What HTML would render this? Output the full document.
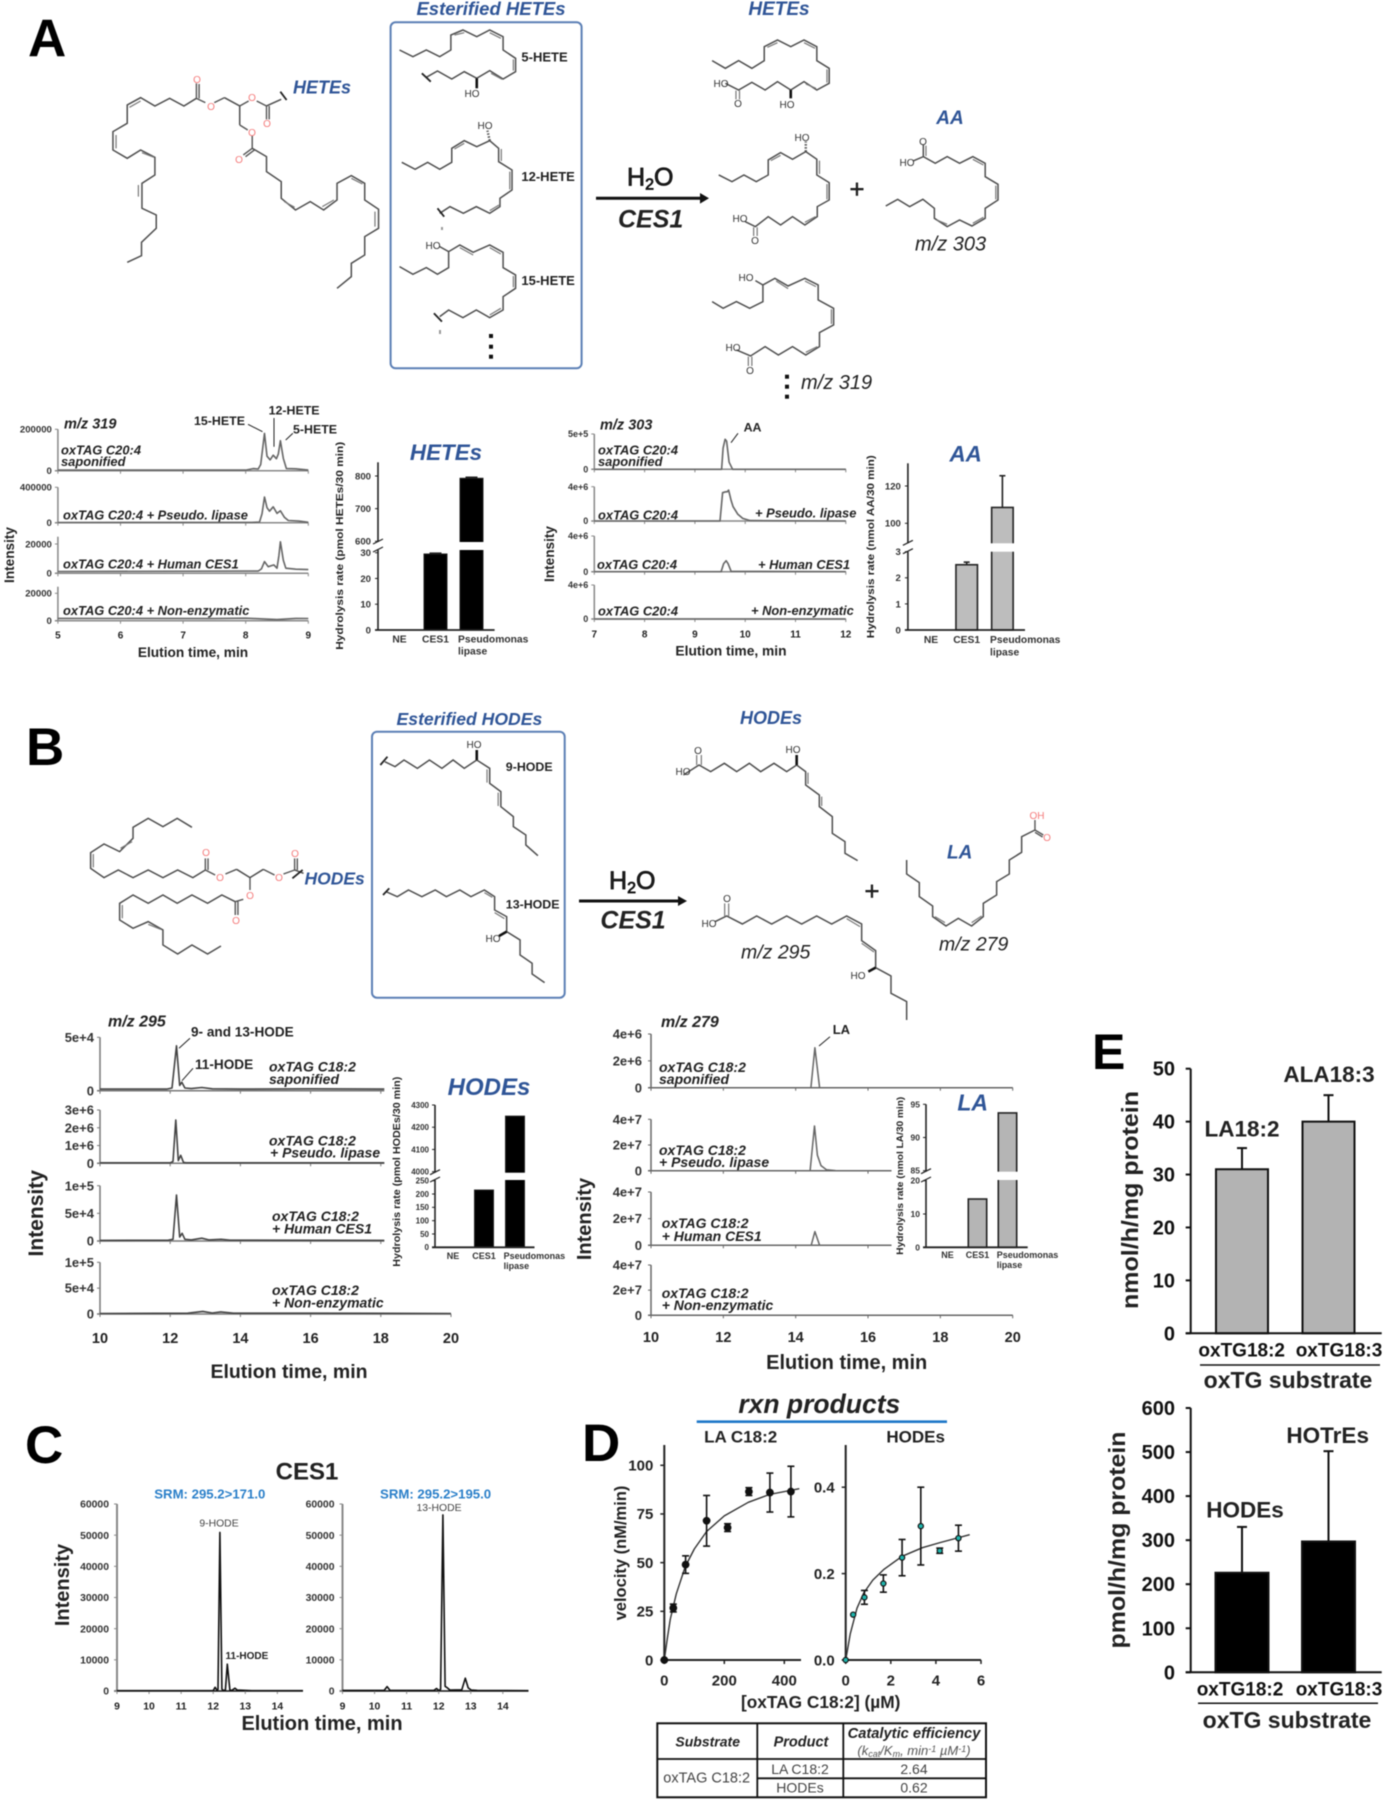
<!DOCTYPE html>
<html lang="en">
<head>
<meta charset="utf-8">
<title>oxTAG hydrolysis by CES1</title>
<style>
html,body{margin:0;padding:0;background:#fff;width:1383px;height:1800px;overflow:hidden}
#fig{display:block;filter:blur(.55px)}
text{font-family:"Liberation Sans",sans-serif;fill:#222}
.b{font-weight:bold}
.bi{font-weight:bold;font-style:italic}
.i{font-style:italic}
.blue{fill:#2f5597;font-weight:bold;font-style:italic}
.lt{font-weight:bold;fill:#000}
.bond{fill:none;stroke:#4f4f4f;stroke-width:1.5;vector-effect:non-scaling-stroke}
.dbl{fill:none;stroke:#777;stroke-width:1.2;vector-effect:non-scaling-stroke}
.redb{fill:none;stroke:#555;stroke-width:1.4;vector-effect:non-scaling-stroke}
.wedge{fill:none;stroke:#111;stroke-width:2.6;vector-effect:non-scaling-stroke}
.hash{fill:none;stroke:#555;stroke-width:2.4;stroke-dasharray:1.5 1.5;vector-effect:non-scaling-stroke}
.cut{fill:none;stroke:#222;stroke-width:1.8;vector-effect:non-scaling-stroke}
.atom{font-size:10px;fill:#333}
.ratom{font-size:10px;fill:#f47a7a}
.box{fill:none;stroke:#5b7fb5;stroke-width:2}
</style>
</head>
<body>
<svg id="fig" xmlns="http://www.w3.org/2000/svg" width="1383" height="1800" viewBox="0 0 1383 1800">
<rect x="0" y="0" width="1383" height="1800" fill="#fff"/>

<!-- Panel letters -->
<text class="lt" x="28" y="56.7" font-size="53">A</text>
<text class="lt" x="26" y="765" font-size="53">B</text>
<text class="lt" x="25" y="1463" font-size="53">C</text>
<text class="lt" x="582" y="1461" font-size="53">D</text>
<text class="lt" x="1092" y="1069" font-size="50">E</text>

<!-- Panel A schemes -->
<g transform="scale(.4464,.3333)">
<polyline class="bond" points="285,787 317,767 317,727 350,685 350,645 318,625 318,550 347,525 347,472 315,450 285,475 253,450 253,395 285,370 285,315 315,293 347,318 380,295 412,318 440,295"/>
<path class="dbl" d="M310,590L310,555M290,322L315,303M260,405L260,445M318,458L345,472"/>
<path class="redb" d="M440,295L460,308M440,295L440,250M446,295L446,252M480,308L503,293M537,318L557,303M575,303L597,318M597,318L597,358M603,318L603,358M537,375L555,390M565,408L565,445M565,445L545,465M570,450L550,470"/>
<polyline class="bond" points="503,293 537,318 537,375"/>
<polyline class="bond" points="597,318 630,298"/>
<path class="cut" d="M628,275L642,300"/>
<polyline class="bond" points="565,445 597,470 597,515 630,545 630,595 662,630 695,605 725,630 755,600 755,550 787,527 817,550 817,600 848,628 848,685 817,710 817,765 787,790 787,830 755,865"/>
<path class="dbl" d="M637,605L660,622M722,620L748,600M787,535L812,552M840,635L840,680"/>
</g>
<text class="ratom" x="197" y="83" text-anchor="middle">O</text>
<text class="ratom" x="211" y="110" text-anchor="middle">O</text>
<text class="ratom" x="252" y="101" text-anchor="middle">O</text>
<text class="ratom" x="267" y="127" text-anchor="middle">O</text>
<text class="ratom" x="252" y="136" text-anchor="middle">O</text>
<text class="ratom" x="239" y="163" text-anchor="middle">O</text>
<text class="blue" x="293" y="93.3" font-size="18">HETEs</text>

<text class="blue" x="491" y="15" font-size="18.5" text-anchor="middle">Esterified HETEs</text>
<rect class="box" x="390.6" y="22.3" width="191" height="346" rx="5"/>
<g transform="scale(.4464,.3333)">
<polyline class="bond" points="895,150 925,170 955,150 985,170 1010,150 1010,105 1037,90 1068,110 1097,90 1127,110 1127,150 1155,175 1155,215 1127,237 1097,212 1068,235 1040,215 1012,237 980,213 955,232"/>
<path class="dbl" d="M1018,105L1040,98M1097,98L1122,115M1150,178L1150,212M1100,220L1125,238"/>
<path class="cut" d="M945,220L965,245"/>
<path class="wedge" d="M1068,235L1068,265"/>
<polyline class="bond" points="900,487 930,508 958,487 985,508 1012,487 1012,445 1040,422 1068,440 1097,422 1117,445 1117,485 1147,510 1147,570 1120,595 1120,620 1097,640 1067,620 1038,640 1008,620 985,640"/>
<path class="dbl" d="M1018,447L1040,430M1123,447L1123,483M1142,515L1142,568M1097,632L1118,615"/>
<path class="cut" d="M980,625L995,650"/>
<path class="hash" d="M1097,422L1092,392"/>
<polyline class="bond" points="895,800 925,823 955,803 980,823 1005,803 1005,755 1030,735 1060,757 1097,735 1127,757 1127,803 1155,825 1155,865 1127,890 1127,930 1097,953 1067,930 1037,953 1005,930 985,950"/>
<path class="dbl" d="M1030,743L1060,765M1097,743L1122,762M1150,828L1150,862M1097,945L1122,925"/>
<path class="cut" d="M972,940L990,965"/>
<path class="bond" d="M1005,755L985,740"/>
</g>
<rect x="441" y="227" width="2" height="3" fill="#999"/>
<rect x="439" y="330" width="2" height="4" fill="#999"/>
<text class="atom" x="472" y="97" text-anchor="middle">HO</text>
<text class="atom" x="485" y="129" text-anchor="middle">HO</text>
<text class="atom" x="433" y="249" text-anchor="middle">HO</text>
<text class="b" x="521.4" y="61.7" font-size="13">5-HETE</text>
<text class="b" x="521.4" y="181" font-size="13">12-HETE</text>
<text class="b" x="521.4" y="285" font-size="13">15-HETE</text>
<g fill="#111">
<rect x="489" y="334" width="4" height="4"/><rect x="489" y="344.7" width="4" height="4"/><rect x="489" y="354.7" width="4" height="4"/>
</g>

<text x="627" y="185.7" font-size="25" stroke="#000" stroke-width=".7">H<tspan font-size="16" dy="4">2</tspan><tspan dy="-4">O</tspan></text>
<g>
<line x1="596" y1="198.3" x2="702" y2="198.3" stroke="#111" stroke-width="3"/>
<polygon points="709,198.3 700,193 700,203.6" fill="#111"/>
</g>
<text class="bi" x="618" y="227.7" font-size="25">CES1</text>

<text class="blue" x="779" y="15" font-size="19" text-anchor="middle">HETEs</text>
<text class="blue" x="950" y="124" font-size="19" text-anchor="middle">AA</text>
<text x="857" y="198" font-size="26" text-anchor="middle" stroke="#000" stroke-width=".4">+</text>
<text class="i" x="915" y="250.7" font-size="20">m/z 303</text>
<text class="i" x="801" y="389" font-size="20">m/z 319</text>
<g fill="#111">
<rect x="785" y="374.7" width="4" height="4"/><rect x="785" y="384.7" width="4" height="4"/><rect x="785" y="394.7" width="4" height="4"/>
</g>
<g transform="translate(690,0) scale(.4419,.3333)">
<polyline class="bond" points="50,182 80,205 110,182 140,205 168,182 168,140 198,120 228,140 258,120 287,140 287,182 315,205 315,250 287,270 258,245 228,270 198,245 170,270 140,247 110,270 80,250"/>
<path class="dbl" d="M175,142L198,128M258,128L283,145M310,208L310,248M262,252L285,265M104,272L104,298M112,272L112,298"/>
<path class="wedge" d="M228,270L228,295"/>
<polyline class="bond" points="65,525 95,545 122,525 150,545 177,525 177,480 205,458 232,478 262,455 287,478 287,525 315,548 315,600 288,620 288,650 260,675 232,650 205,675 177,650 148,680 125,665"/>
<path class="dbl" d="M183,482L205,466M293,482L293,522M310,552L310,598M260,667L284,650M144,682L144,708M152,682L152,708"/>
<path class="hash" d="M262,455L262,425"/>
<polyline class="bond" points="528,435 528,470 505,483"/>
<path class="dbl" d="M534,437L534,468"/>
<polyline class="bond" points="528,470 555,490 582,470 610,490 640,470 668,490 668,530 697,553 697,600 668,625 668,655 638,678 610,660 582,680 553,655 553,625 527,598 497,620 470,598 443,618"/>
<path class="dbl" d="M640,478L664,495M692,557L692,598M640,670L664,652M558,660L582,673"/>
<polyline class="bond" points="50,905 75,925 105,905 135,925 165,905 165,855 192,835 222,858 260,835 290,855 290,900 325,925 325,975 293,998 293,1040 262,1065 232,1040 200,1065 170,1040 137,1068 105,1050"/>
<path class="dbl" d="M195,843L222,866M260,843L285,860M320,928L320,972M262,1057L288,1040M132,1070L132,1098M140,1070L140,1098"/>
<path class="bond" d="M165,855L148,842"/>
</g>
<text class="atom" x="721" y="87" text-anchor="middle">HO</text>
<text class="atom" x="738" y="107" text-anchor="middle">O</text>
<text class="atom" x="787" y="108" text-anchor="middle">HO</text>
<text class="atom" x="802" y="141" text-anchor="middle">HO</text>
<text class="atom" x="740" y="222" text-anchor="middle">HO</text>
<text class="atom" x="755" y="244" text-anchor="middle">O</text>
<text class="atom" x="923" y="145" text-anchor="middle">O</text>
<text class="atom" x="907" y="166" text-anchor="middle">HO</text>
<text class="atom" x="746" y="281" text-anchor="middle">HO</text>
<text class="atom" x="733" y="351" text-anchor="middle">HO</text>
<text class="atom" x="750" y="374" text-anchor="middle">O</text>

<!-- Panel A charts text -->
<text class="bi" x="64" y="428.3" font-size="14.5">m/z 319</text>
<text class="b" x="194" y="425" font-size="12.4">15-HETE</text>
<text class="b" x="268.6" y="414.3" font-size="12.4">12-HETE</text>
<text class="b" x="293" y="433.3" font-size="12.4">5-HETE</text>
<g stroke="#222" stroke-width="1">
<line x1="248" y1="424.3" x2="262.5" y2="431.7"/><line x1="274" y1="418" x2="274" y2="446.7"/><line x1="292.9" y1="433.3" x2="285.7" y2="440"/>
</g>
<text class="bi" x="61" y="454.3" font-size="12.9">oxTAG C20:4</text>
<text class="bi" x="61" y="466" font-size="12.9">saponified</text>
<text class="bi" x="63" y="519.3" font-size="12.9">oxTAG C20:4 + Pseudo. lipase</text>
<text class="bi" x="63" y="568.7" font-size="12.9">oxTAG C20:4 + Human CES1</text>
<text class="bi" x="63" y="615" font-size="12.9">oxTAG C20:4 + Non-enzymatic</text>
<text class="b" transform="translate(14,555) rotate(-90)" text-anchor="middle" font-size="13.6">Intensity</text>
<text class="b" x="193" y="657" text-anchor="middle" font-size="13.7">Elution time, min</text>
<text class="blue" x="446" y="460" text-anchor="middle" font-size="22.4">HETEs</text>
<text class="b" transform="translate(343,545.8) rotate(-90)" text-anchor="middle" font-size="10.5" textLength="208" lengthAdjust="spacingAndGlyphs">Hydrolysis rate (pmol HETEs/30 min)</text>

<text class="bi" x="600" y="429.3" font-size="14.5">m/z 303</text>
<text class="b" x="743.6" y="431.7" font-size="12.4">AA</text>
<line x1="738" y1="433.3" x2="731" y2="442.7" stroke="#222"/>
<text class="bi" x="598" y="454.3" font-size="12.9">oxTAG C20:4</text>
<text class="bi" x="598" y="466" font-size="12.9">saponified</text>
<text class="bi" x="598" y="519.3" font-size="12.9">oxTAG C20:4</text>
<text class="bi" x="755" y="517.3" font-size="12.9">+ Pseudo. lipase</text>
<text class="bi" x="597" y="569" font-size="12.9">oxTAG C20:4</text>
<text class="bi" x="758" y="569" font-size="12.9">+ Human CES1</text>
<text class="bi" x="598" y="615.7" font-size="12.9">oxTAG C20:4</text>
<text class="bi" x="751" y="615" font-size="12.9">+ Non-enzymatic</text>
<text class="b" transform="translate(554,554) rotate(-90)" text-anchor="middle" font-size="13.6">Intensity</text>
<text class="b" x="731" y="655.5" text-anchor="middle" font-size="13.8">Elution time, min</text>
<text class="blue" x="965.7" y="461.7" text-anchor="middle" font-size="22.4">AA</text>
<text class="b" transform="translate(874,546.7) rotate(-90)" text-anchor="middle" font-size="10.5" textLength="183" lengthAdjust="spacingAndGlyphs">Hydrolysis rate (nmol AA/30 min)</text>

<!-- Panel B schemes -->
<g transform="translate(0,700) scale(.4464,.3333)">
<polyline class="bond" points="430,382 397,355 365,380 332,355 298,382 298,415 268,455 233,432 203,458 203,505 233,533 265,510 298,533 332,510 365,533 398,510 432,533 460,510"/>
<path class="dbl" d="M270,445L296,425M209,462L209,502"/>
<path class="redb" d="M460,510L460,475M466,510L466,475M460,510L482,525M505,522L530,508M590,508L615,525M635,522L660,510M660,510L660,475M666,510L666,475M560,533L560,570M545,598L527,605M527,605L527,645M533,605L533,645"/>
<polyline class="bond" points="530,508 560,533 590,508"/>
<polyline class="bond" points="660,510 680,520"/>
<path class="cut" d="M655,535L678,510"/>
<polyline class="bond" points="527,605 497,585 465,610 430,585 397,610 365,585 332,610 298,585 268,610 268,660 298,685 332,665 365,690 365,735 398,762 430,735 465,762 495,738"/>
<path class="dbl" d="M274,615L274,655M332,673L360,688"/>
<polyline class="bond" points="862,185 885,200 905,180 935,205 962,180 990,205 1015,180 1040,205 1068,180 1097,205 1097,250 1122,275 1122,320 1150,350 1150,380 1178,405 1178,435 1205,467"/>
<path class="dbl" d="M1091,208L1091,248M1116,278L1116,318"/>
<path class="cut" d="M852,195L868,170"/>
<path class="wedge" d="M1068,180L1068,150"/>
<polyline class="bond" points="865,575 890,590 915,570 945,590 975,570 1000,590 1030,570 1055,590 1085,570 1108,590 1108,630 1135,650 1135,695 1165,720 1165,765 1192,790 1192,822 1220,848"/>
<path class="dbl" d="M1085,578L1103,592M1108,638L1130,656"/>
<path class="cut" d="M858,585L872,565"/>
<path class="wedge" d="M1135,695L1118,708"/>
</g>
<text class="ratom" x="206" y="856" text-anchor="middle">O</text>
<text class="ratom" x="220" y="881" text-anchor="middle">O</text>
<text class="ratom" x="250" y="899" text-anchor="middle">O</text>
<text class="ratom" x="236" y="924" text-anchor="middle">O</text>
<text class="ratom" x="279" y="881" text-anchor="middle">O</text>
<text class="ratom" x="295" y="857" text-anchor="middle">O</text>
<text class="blue" x="304.5" y="884.3" font-size="17.5">HODEs</text>

<text class="blue" x="469.4" y="725" font-size="17.6" text-anchor="middle">Esterified HODEs</text>
<rect class="box" x="372" y="731.7" width="192.7" height="266" rx="5"/>
<text class="atom" x="474" y="748" font-size="9" text-anchor="middle">HO</text>
<text class="atom" x="493" y="942" font-size="9" text-anchor="middle">HO</text>
<text class="b" x="505.8" y="771" font-size="12.4">9-HODE</text>
<text class="b" x="505.8" y="908.3" font-size="12.4">13-HODE</text>

<text x="609" y="889" font-size="25" stroke="#000" stroke-width=".7">H<tspan font-size="16" dy="4">2</tspan><tspan dy="-4">O</tspan></text>
<g>
<line x1="579" y1="901" x2="680" y2="901" stroke="#111" stroke-width="3"/>
<polygon points="687,901 678,896 678,906" fill="#111"/>
</g>
<text class="bi" x="600.4" y="928.3" font-size="25">CES1</text>

<text class="blue" x="771" y="724" font-size="18" text-anchor="middle">HODEs</text>
<text class="blue" x="959.7" y="858.3" font-size="19" text-anchor="middle">LA</text>
<text x="872" y="900" font-size="26" text-anchor="middle" stroke="#000" stroke-width=".4">+</text>
<text class="i" x="741" y="958.3" font-size="19.5">m/z 295</text>
<text class="i" x="939" y="950.7" font-size="19.5">m/z 279</text>
<g transform="translate(690,700) scale(.3333,.3333)">
<polyline class="bond" points="-20,225 27,195 62,215 103,190 140,215 178,190 212,215 252,190 290,215 320,195 347,215 347,255 388,285 388,320 427,350 427,400 465,425 465,460 503,482"/>
<path class="dbl" d="M354,218L354,252M395,290L395,318M20,195L20,165M34,195L34,165"/>
<path class="wedge" d="M320,195L320,165"/>
<polyline class="bond" points="75,665 110,648 157,672 200,648 245,672 290,648 335,672 380,648 425,672 470,648 515,672 515,722 557,752 557,803 603,828 603,880 650,905 650,960"/>
<path class="dbl" d="M470,656L510,680M515,730L552,756M104,648L104,610M116,648L116,610"/>
<path class="wedge" d="M557,803L535,815"/>
<polyline class="bond" points="650,480 650,522 688,548 688,590 728,618 728,650 768,678 805,655 845,678 880,650 880,610 920,585 920,545 958,522 958,480 995,457 995,410 1035,390"/>
<path class="dbl" d="M735,650L765,668M845,668L875,648"/>
<path class="redb" d="M1035,390L1060,405M1035,397L1058,411M1035,390L1035,360"/>
</g>
<text class="atom" x="698" y="754" font-size="9" text-anchor="middle">O</text>
<text class="atom" x="683" y="775" font-size="9" text-anchor="middle">HO</text>
<text class="atom" x="793" y="753" font-size="9" text-anchor="middle">HO</text>
<text class="atom" x="727" y="902" font-size="9" text-anchor="middle">O</text>
<text class="atom" x="709" y="927" font-size="9" text-anchor="middle">HO</text>
<text class="atom" x="858" y="979" font-size="9" text-anchor="middle">HO</text>
<text class="ratom" x="1037" y="819" font-size="9" text-anchor="middle">OH</text>
<text class="ratom" x="1047" y="841" font-size="9" text-anchor="middle">O</text>

<!-- Panel B charts text -->
<text class="bi" x="108" y="1026.7" font-size="16">m/z 295</text>
<text class="b" x="191" y="1036.7" font-size="13.6">9- and 13-HODE</text>
<text class="b" x="195" y="1069" font-size="13.6">11-HODE</text>
<g stroke="#222" stroke-width="1">
<line x1="190" y1="1038.3" x2="179" y2="1048.3"/><line x1="193" y1="1068.3" x2="182" y2="1080.7"/>
</g>
<text class="bi" x="269" y="1071.7" font-size="14">oxTAG C18:2</text>
<text class="bi" x="269" y="1084" font-size="14">saponified</text>
<text class="bi" x="269" y="1145.7" font-size="14">oxTAG C18:2</text>
<text class="bi" x="270" y="1157.7" font-size="14">+ Pseudo. lipase</text>
<text class="bi" x="272" y="1221" font-size="14">oxTAG C18:2</text>
<text class="bi" x="272" y="1233.3" font-size="14">+ Human CES1</text>
<text class="bi" x="272" y="1295" font-size="14">oxTAG C18:2</text>
<text class="bi" x="272" y="1307.3" font-size="14">+ Non-enzymatic</text>
<text class="b" transform="translate(43,1213.3) rotate(-90)" text-anchor="middle" font-size="21">Intensity</text>
<text class="b" x="289" y="1378" text-anchor="middle" font-size="19.5">Elution time, min</text>
<text class="blue" x="489" y="1095" text-anchor="middle" font-size="24">HODEs</text>
<text class="b" transform="translate(400,1171.7) rotate(-90)" text-anchor="middle" font-size="10" textLength="190" lengthAdjust="spacingAndGlyphs">Hydrolysis rate (pmol HODEs/30 min)</text>

<text class="bi" x="661" y="1027" font-size="16">m/z 279</text>
<text class="b" x="832.7" y="1034" font-size="13">LA</text>
<line x1="830" y1="1036.7" x2="819" y2="1046" stroke="#222"/>
<text class="bi" x="659" y="1072" font-size="14">oxTAG C18:2</text>
<text class="bi" x="659" y="1084" font-size="14">saponified</text>
<text class="bi" x="659" y="1155" font-size="14">oxTAG C18:2</text>
<text class="bi" x="659" y="1167" font-size="14">+ Pseudo. lipase</text>
<text class="bi" x="661.7" y="1228" font-size="14">oxTAG C18:2</text>
<text class="bi" x="661.7" y="1241" font-size="14">+ Human CES1</text>
<text class="bi" x="661.7" y="1298" font-size="14">oxTAG C18:2</text>
<text class="bi" x="661.7" y="1310" font-size="14">+ Non-enzymatic</text>
<text class="b" transform="translate(591,1219) rotate(-90)" text-anchor="middle" font-size="20">Intensity</text>
<text class="b" x="846.7" y="1369" text-anchor="middle" font-size="20">Elution time, min</text>
<text class="blue" x="972.7" y="1110.7" text-anchor="middle" font-size="23">LA</text>
<text class="b" transform="translate(903,1175.7) rotate(-90)" text-anchor="middle" font-size="9" textLength="158" lengthAdjust="spacingAndGlyphs">Hydrolysis rate (nmol LA/30 min)</text>

<!-- Panel C text -->
<text class="b" x="307" y="1479.3" text-anchor="middle" font-size="24" fill="#000">CES1</text>
<text class="b" x="209.8" y="1498.3" text-anchor="middle" font-size="13.2" style="fill:#2a7fc9">SRM: 295.2&gt;171.0</text>
<text class="b" x="435.6" y="1498.3" text-anchor="middle" font-size="13.2" style="fill:#2a7fc9">SRM: 295.2&gt;195.0</text>
<text x="219" y="1526.7" text-anchor="middle" font-size="10.4" style="fill:#444">9-HODE</text>
<text class="b" x="225.5" y="1659" font-size="10">11-HODE</text>
<text x="439" y="1511" text-anchor="middle" font-size="10.4" style="fill:#444">13-HODE</text>
<text class="b" transform="translate(69,1585) rotate(-90)" text-anchor="middle" font-size="20">Intensity</text>
<text class="b" x="322" y="1730" text-anchor="middle" font-size="20">Elution time, min</text>

<!-- Panel D text -->
<text class="bi" x="819.3" y="1413" text-anchor="middle" font-size="26.5">rxn products</text>
<line x1="696.7" y1="1421.7" x2="947" y2="1421.7" stroke="#1f78c8" stroke-width="2.6"/>
<text class="b" x="740.7" y="1442.7" text-anchor="middle" font-size="17">LA C18:2</text>
<text class="b" x="915.7" y="1442.7" text-anchor="middle" font-size="17">HODEs</text>
<text class="b" transform="translate(626,1553) rotate(-90)" text-anchor="middle" font-size="16.5">velocity (nM/min)</text>
<text class="b" x="820.7" y="1708" text-anchor="middle" font-size="17.3">[oxTAG C18:2] (µM)</text>

<g>
<rect x="657.3" y="1723.3" width="328.7" height="74" fill="none" stroke="#111" stroke-width="2"/>
<line x1="757.3" y1="1723.3" x2="757.3" y2="1797.3" stroke="#111" stroke-width="1.8"/>
<line x1="843.3" y1="1723.3" x2="843.3" y2="1797.3" stroke="#111" stroke-width="1.8"/>
<line x1="657.3" y1="1759" x2="986" y2="1759" stroke="#111" stroke-width="1.8"/>
<line x1="757.3" y1="1778.3" x2="986" y2="1778.3" stroke="#111" stroke-width="1.8"/>
<text class="bi" x="707.7" y="1746.7" text-anchor="middle" font-size="14">Substrate</text>
<text class="bi" x="801" y="1746.7" text-anchor="middle" font-size="14.5">Product</text>
<text class="bi" x="914" y="1738" text-anchor="middle" font-size="14.7">Catalytic efficiency</text>
<text class="i" x="914" y="1755" text-anchor="middle" font-size="13" style="fill:#555">(k<tspan font-size="9" dy="2">cat</tspan><tspan dy="-2">/K</tspan><tspan font-size="9" dy="2">m</tspan><tspan dy="-2">, min</tspan><tspan font-size="9" dy="-3">-1</tspan><tspan dy="3"> µM</tspan><tspan font-size="9" dy="-3">-1</tspan><tspan dy="3">)</tspan></text>
<text x="706.7" y="1782.7" text-anchor="middle" font-size="14.5" style="fill:#444">oxTAG C18:2</text>
<text x="800" y="1774" text-anchor="middle" font-size="14" style="fill:#444">LA C18:2</text>
<text x="800" y="1792.5" text-anchor="middle" font-size="14" style="fill:#444">HODEs</text>
<text x="914" y="1774" text-anchor="middle" font-size="14" style="fill:#444">2.64</text>
<text x="914" y="1792.5" text-anchor="middle" font-size="14" style="fill:#444">0.62</text>
</g>

<!-- Panel E text -->
<text class="b" x="1242" y="1136.7" text-anchor="middle" font-size="22.5">LA18:2</text>
<text class="b" x="1329" y="1082" text-anchor="middle" font-size="22.5">ALA18:3</text>
<text class="b" transform="translate(1138,1200) rotate(-90)" text-anchor="middle" font-size="23" textLength="218" lengthAdjust="spacingAndGlyphs">nmol/h/mg protein</text>
<line x1="1200" y1="1365" x2="1380" y2="1365" stroke="#111" stroke-width="1.5"/>
<text class="b" x="1288" y="1388" text-anchor="middle" font-size="23">oxTG substrate</text>
<text class="b" x="1245" y="1517.7" text-anchor="middle" font-size="22.5">HODEs</text>
<text class="b" x="1327.7" y="1443" text-anchor="middle" font-size="22.5">HOTrEs</text>
<text class="b" transform="translate(1125,1540) rotate(-90)" text-anchor="middle" font-size="23" textLength="217" lengthAdjust="spacingAndGlyphs">pmol/h/mg protein</text>
<line x1="1198" y1="1703.3" x2="1378" y2="1703.3" stroke="#111" stroke-width="1.5"/>
<text class="b" x="1287" y="1728" text-anchor="middle" font-size="23">oxTG substrate</text>

<g id="charts"></g>
</svg>

<script>
// ---- Panel A: m/z 319 traces ----
const heteSapTime=[5,8.0,8.12,8.2,8.24,8.3,8.34,8.39,8.44,8.49,8.52,8.555,8.6,8.65,8.8,9];
const heteSapValue=[3000,3000,10000,8000,30000,180000,70000,52000,75000,58000,80000,145000,60000,10000,9000,3000];
const hetePseudoTime=[5,8.1,8.22,8.26,8.3,8.34,8.38,8.44,8.5,8.555,8.62,8.68,8.85,9];
const hetePseudoValue=[2000,3000,8000,100000,290000,170000,130000,180000,105000,135000,60000,25000,18000,5000];
const heteCesTime=[5,8.2,8.25,8.3,8.36,8.45,8.5,8.53,8.555,8.6,8.64,8.8,9];
const heteCesValue=[1200,1500,3000,8000,4500,5700,3500,12000,21500,9000,3500,2800,2500];
const heteNonTime=[5,7.5,8,8.5,8.8,9];
const heteNonValue=[1700,1500,1800,800,1700,1600];
const heteXTicks=[5,6,7,8,9];
const heteSapTicks=[0,200000];
const hetePseudoTicks=[0,400000];
const heteCesTicks=[0,20000];
const heteNonTicks=[0,20000];
// ---- Panel A: m/z 303 traces ----
const aaSapTime=[7,9.53,9.56,9.6,9.63,9.68,9.75,12];
const aaSapValue=[0,0,300000,425000,400000,100000,0,0];
const aaPseudoTime=[7,9.5,9.55,9.61,9.64,9.67,9.72,9.76,9.85,9.95,10.1,12];
const aaPseudoValue=[0,0,3300000,3400000,3400000,3600000,2400000,1670000,800000,300000,50000,0];
const aaCesTime=[7,9.52,9.57,9.62,9.66,9.72,12];
const aaCesValue=[0,0,900000,1230000,900000,50000,0];
const aaNonTime=[7,12];
const aaNonValue=[0,0];
const aaXTicks=[7,8,9,10,11,12];
const aaSapTicks=[0,500000];
const aaOtherTicks=[0,4000000];
// ---- Panel A: rates ----
const rateCategories=['NE','CES1','Pseudomonas'];
const rateCategoryLine2=['','','lipase'];
const heteRates=[0,29.5,793];
const heteRateErrors=[0,0.3,3];
const heteLowTicks=[0,10,20,30];
const heteHighTicks=[600,700,800];
const aaRates=[0,2.5,108.5];
const aaRateErrors=[0,0.1,17];
const aaLowTicks=[0,1,2,3];
const aaHighTicks=[100,120];
// ---- Panel B: m/z 295 traces ----
const hodeSapTime=[10,11.9,12.05,12.18,12.27,12.33,12.42,12.6,12.9,13.2,14,16,18.1];
const hodeSapValue=[1500,1500,2500,42000,5000,8000,2500,2000,3000,1800,1500,1800,1500];
const hodePseudoTime=[10,12,12.08,12.16,12.23,12.3,12.38,12.45,18.1];
const hodePseudoValue=[30000,30000,100000,2430000,150000,450000,50000,30000,30000];
const hodeCesTime=[10,11.95,12.08,12.18,12.27,12.34,12.42,12.6,12.9,13.1,13.45,13.7,18.1];
const hodeCesValue=[1000,1500,3000,83000,7000,14000,3000,2000,5000,2000,3000,1500,1000];
const hodeNonTime=[10,12.5,12.93,13.2,13.44,13.8,16,20];
const hodeNonValue=[1000,1500,5000,2000,4000,1500,1500,1000];
const bXTicks=[10,12,14,16,18,20];
const hodeSapTicks=[0,50000];
const hodePseudoTicks=[0,1000000,2000000,3000000];
const hodeCesTicks=[0,50000,100000];
const hodeNonTicks=[0,50000,100000];
const hodeRates=[0,215,4250];
const hodeRateErrors=[0,0,0];
const hodeLowTicks=[0,50,100,150,200,250];
const hodeHighTicks=[4000,4100,4200,4300];
// ---- Panel B: m/z 279 traces ----
const laSapTime=[10,14.42,14.53,14.66,20];
const laSapValue=[0,0,2980000,0,0];
const laPseudoTime=[10,14.4,14.52,14.6,14.7,14.85,15.1,16.5];
const laPseudoValue=[0,0,34800000,12000000,4000000,800000,100000,0];
const laCesTime=[10,14.43,14.53,14.66,16.5];
const laCesValue=[0,0,10300000,0,0];
const laNonTime=[10,20];
const laNonValue=[0,0];
const laSapTicks=[0,2000000,4000000];
const laOtherTicks=[0,20000000,40000000];
const laRates=[0,14.5,93.7];
const laRateErrors=[0,0,0];
const laLowTicks=[0,10,20];
const laHighTicks=[85,90,95];
// ---- Panel C ----
const srm171Time=[9,12,12.06,12.12,12.15,12.21,12.27,12.31,12.38,12.44,12.52,12.58,12.68,12.75,13.2,14.8];
const srm171Value=[100,100,1200,200,500,50900,600,200,300,8600,300,200,900,300,100,100];
const srm195Time=[9,10.3,10.39,10.48,11.85,11.93,12.0,12.06,12.13,12.2,12.27,12.35,12.72,12.83,12.92,13.02,13.2,14.8];
const srm195Value=[200,200,1400,200,200,800,200,500,56500,1500,1000,300,400,4100,1000,300,200,100];
const srmXTicks=[9,10,11,12,13,14];
const srmYTicks=[0,10000,20000,30000,40000,50000,60000];
// ---- Panel D ----
const laConc=[0,30,71,141,211,282,352,422];
const laVelocity=[0,26.7,49,71.5,68,86.5,86,86.5];
const laVelocityErr=[0,2,4.5,13,2,2,10,13];
const laFitX=[0,10,20,40,70,100,141,200,280,350,450];
const laFitY=[0,11,21,34,48,57,66,74,81,85,88];
const laXTicks=[0,200,400];
const laYTicks=[0,25,50,75,100];
const hodeConc=[0,0.33,0.83,1.67,2.5,3.33,4.17,5];
const hodeVelocity=[0,0.105,0.145,0.177,0.237,0.31,0.253,0.282];
const hodeVelocityErr=[0,0,0.016,0.02,0.042,0.09,0.006,0.03];
const hodeFitX=[0,0.1,0.2,0.5,0.8,1.2,1.7,2.5,3.4,4.2,5.5];
const hodeFitY=[0,0.03,0.06,0.12,0.155,0.185,0.21,0.24,0.26,0.272,0.29];
const hodeXTicks=[0,2,4,6];
const hodeYTicks=[0,0.2,0.4];
// ---- Panel E ----
const eCategories=['oxTG18:2','oxTG18:3'];
const eTopValues=[31,40];
const eTopErrors=[4,5];
const eTopTicks=[0,10,20,30,40,50];
const eBottomValues=[226,297];
const eBottomErrors=[104,205];
const eBottomTicks=[0,100,200,300,400,500,600];

const NS='http://www.w3.org/2000/svg';
const root=document.getElementById('charts');
function add(parent,tag,attrs,name,txt){
  const el=document.createElementNS(NS,tag);
  for(const k in attrs){el.setAttribute(k,attrs[k]);}
  
  
  if(txt!==undefined){el.textContent=txt;}
  parent.appendChild(el);
  return el;
}
function line(p,x1,y1,x2,y2,stroke,w,name){
  return add(p,'line',{x1:x1,y1:y1,x2:x2,y2:y2,stroke:stroke,'stroke-width':w},name);
}
function label(p,x,y,s,fs,anchor,name,fill,weight){
  return add(p,'text',{x:x,y:y+fs*0.35,'text-anchor':anchor,'font-size':fs,'font-weight':weight||'bold',style:'fill:'+(fill||'#222')},name,s);
}
function sci(v){return v===0?'0':v.toExponential(0);}
function plain(v){return String(v);}

function chromPanel(name,ax,times,values,yTicks,fmt,xTicks){
  const g=add(root,'g',{},name);
  const X=t=>ax.x0+(t-ax.tmin)*ax.ppm;
  const Y=v=>ax.y0-(v/ax.vMax)*(ax.y0-ax.yMaxPx);
  line(g,X(ax.tmin),ax.top,X(ax.tmin),ax.y0,ax.axisColor,ax.axisW,'y-axis');
  line(g,X(ax.tmin)-ax.tick,ax.y0,X(ax.tEnd),ax.y0,ax.xColor||ax.axisColor,ax.xW||ax.axisW,'x-axis');
  xTicks.forEach(t=>{ if(t<=ax.tEnd){ line(g,X(t),ax.y0,X(t),ax.y0+ax.tick,ax.axisColor,1,'x-tick'); } });
  yTicks.forEach(v=>{
    line(g,X(ax.tmin)-ax.tick,Y(v),X(ax.tmin),Y(v),ax.axisColor,1,'y-tick');
    label(g,X(ax.tmin)-ax.tick-ax.gap,Y(v),fmt(v),ax.fs,'end','y-tick-label','#333');
  });
  const pts=times.map((t,i)=>X(t).toFixed(1)+','+Y(values[i]).toFixed(1)).join(' ');
  add(g,'polyline',{points:pts,fill:'none',stroke:ax.lineColor,'stroke-width':ax.lw,'stroke-linejoin':'round'},'trace');
}
function xLabels(name,ticks,x0,tmin,ppm,y,fs){
  const g=add(root,'g',{},name);
  ticks.forEach(t=>{ label(g,x0+(t-tmin)*ppm,y,String(t),fs,'middle','x-tick-label','#222'); });
}

function brokenBar(name,c,values,errors,lowTicks,highTicks){
  const g=add(root,'g',{},name);
  const Ylow=v=>c.base-(v/c.loMax)*(c.base-c.loMaxPx);
  const Yhigh=v=>c.hiMinPx-((v-c.hiMin)/(c.hiMax-c.hiMin))*(c.hiMinPx-c.hiMaxPx);
  const Y=v=>v<=c.loMax?Ylow(v):Yhigh(v);
  values.forEach((v,i)=>{
    const cx=c.first+i*c.step;
    if(v>0){
      add(g,'rect',{x:cx-c.barW/2,y:Y(v),width:c.barW,height:c.base-Y(v),fill:c.fill,stroke:'#222','stroke-width':c.sw},'bar-'+rateCategories[i].toLowerCase());
      if(v>c.loMax){
        add(g,'rect',{x:cx-c.barW/2-2,y:c.gapTop,width:c.barW+4,height:c.gapBot-c.gapTop,fill:'#fff'},'bar-break-gap');
      }
      if(errors[i]>0){
        line(g,cx,Y(v),cx,Y(v+errors[i]),'#222',1.6,'error-bar');
        line(g,cx-c.cap,Y(v+errors[i]),cx+c.cap,Y(v+errors[i]),'#222',1.6,'error-cap');
      }
    }
    label(g,i===2?c.pseudoLeft:cx,c.labY,rateCategories[i],c.labFs,i===2?'start':'middle','category-label','#333');
    if(rateCategoryLine2[i]){
      label(g,c.pseudoLeft,c.labY2,rateCategoryLine2[i],c.labFs,'start','category-label-line-2','#333');
    }
  });
  line(g,c.x,c.top,c.x,c.gapTop,'#222',1.6,'y-axis-upper');
  line(g,c.x,c.gapBot,c.x,c.base,'#222',1.6,'y-axis-lower');
  line(g,c.x-5,c.gapTop+2,c.x+5,c.gapTop-3,'#222',1.2,'axis-break-mark');
  line(g,c.x-5,c.gapBot+2,c.x+5,c.gapBot-3,'#222',1.2,'axis-break-mark');
  line(g,c.x-3,c.base,c.right,c.base,'#222',1.8,'x-axis');
  lowTicks.forEach(v=>{
    line(g,c.x-3,Ylow(v),c.x,Ylow(v),'#222',1,'y-tick');
    label(g,c.x-c.labGap,Ylow(v),String(v),c.fs,'end','y-tick-label','#333');
  });
  highTicks.forEach(v=>{
    line(g,c.x-3,Yhigh(v),c.x,Yhigh(v),'#222',1,'y-tick');
    label(g,c.x-c.labGap,Yhigh(v),String(v),c.fs,'end','y-tick-label','#333');
  });
}

function kinetics(name,c,xs,ys,errs,fitX,fitY,xTicks,yTicks,fmtY){
  const g=add(root,'g',{},name);
  const X=v=>c.x0+v*c.sx;
  const Y=v=>c.y0-v*c.sy;
  line(g,c.x0,c.top,c.x0,c.y0,'#222',2,'y-axis');
  line(g,c.x0-3,c.y0,c.right,c.y0,'#222',2,'x-axis');
  yTicks.forEach(v=>{
    line(g,c.x0-4,Y(v),c.x0,Y(v),'#222',1.5,'y-tick');
    label(g,c.x0-c.labGap,Y(v),fmtY(v),15,'end','y-tick-label','#222');
  });
  xTicks.forEach(v=>{
    line(g,X(v),c.y0,X(v),c.y0+4,'#222',1.5,'x-tick');
    label(g,X(v),c.y0+20,String(v),15,'middle','x-tick-label','#222');
  });
  add(g,'polyline',{points:fitX.map((v,i)=>X(v).toFixed(1)+','+Y(fitY[i]).toFixed(1)).join(' '),fill:'none',stroke:'#333','stroke-width':1.4,'stroke-linejoin':'round'},'fit-curve');
  xs.forEach((v,i)=>{
    if(errs[i]>0){
      line(g,X(v),Y(ys[i]-errs[i]),X(v),Y(ys[i]+errs[i]),'#111',1.6,'error-bar');
      line(g,X(v)-3.5,Y(ys[i]+errs[i]),X(v)+3.5,Y(ys[i]+errs[i]),'#111',1.6,'error-cap');
      line(g,X(v)-3.5,Y(ys[i]-errs[i]),X(v)+3.5,Y(ys[i]-errs[i]),'#111',1.6,'error-cap');
    }
    add(g,'circle',{cx:X(v),cy:Y(ys[i]),r:c.r,fill:c.marker,stroke:'#111','stroke-width':1.2},'data-point');
  });
}

function simpleBar(name,c,values,errors,ticks,cats){
  const g=add(root,'g',{},name);
  const Y=v=>c.base-(v/c.vMax)*(c.base-c.topPx);
  values.forEach((v,i)=>{
    const cx=c.first+i*c.step;
    line(g,cx,Y(v),cx,Y(v+errors[i]),'#111',2,'error-bar');
    line(g,cx-c.cap,Y(v+errors[i]),cx+c.cap,Y(v+errors[i]),'#111',2,'error-cap');
    add(g,'rect',{x:cx-c.barW/2,y:Y(v),width:c.barW,height:c.base-Y(v),fill:c.fill,stroke:'#111','stroke-width':2},'bar-'+cats[i].toLowerCase().replace(':','-'));
    label(g,i===0?c.lab0:c.lab1,c.labY,cats[i],19,'middle','category-label','#111');
  });
  line(g,c.x,c.topPx,c.x,c.base,'#111',2,'y-axis');
  line(g,c.x-5,c.base,c.right,c.base,'#111',2,'x-axis');
  ticks.forEach(v=>{
    line(g,c.x-5,Y(v),c.x,Y(v),'#111',2,'y-tick');
    label(g,c.x-15.7,Y(v),String(v),20,'end','y-tick-label','#111');
  });
}

// Panel A left
const aL={x0:57.9,tmin:5,ppm:62.6,tEnd:9,axisColor:'#888',axisW:1.5,lineColor:'#666',lw:1.6,tick:3,gap:3,fs:9.6};
chromPanel('hete-trace-saponified',Object.assign({},aL,{y0:470.7,yMaxPx:429.3,vMax:200000,top:429.3}),heteSapTime,heteSapValue,heteSapTicks,plain,heteXTicks);
chromPanel('hete-trace-pseudo-lipase',Object.assign({},aL,{y0:522.7,yMaxPx:487.3,vMax:400000,top:487.3}),hetePseudoTime,hetePseudoValue,hetePseudoTicks,plain,heteXTicks);
chromPanel('hete-trace-human-ces1',Object.assign({},aL,{y0:573.3,yMaxPx:544,vMax:20000,top:536.7}),heteCesTime,heteCesValue,heteCesTicks,plain,heteXTicks);
chromPanel('hete-trace-non-enzymatic',Object.assign({},aL,{y0:620.7,yMaxPx:593.3,vMax:20000,top:586.7}),heteNonTime,heteNonValue,heteNonTicks,plain,heteXTicks);
xLabels('hete-x-tick-labels',heteXTicks,57.9,5,62.6,635,10);
brokenBar('hetes-rate-chart',{x:378,base:630,right:494.6,top:462.3,loMax:30,loMaxPx:552.7,hiMin:600,hiMax:800,hiMinPx:541.3,hiMaxPx:476,gapTop:542,gapBot:550,first:399.5,step:36,barW:23,fill:'#000',sw:1,cap:6,labY:639,labY2:650.7,pseudoLeft:458,labFs:10.3,fs:9.6,labGap:7},heteRates,heteRateErrors,heteLowTicks,heteHighTicks);

// Panel A right
const aR={x0:594.3,tmin:7,ppm:50.3,tEnd:12,axisColor:'#888',axisW:1.5,lineColor:'#666',lw:1.6,tick:3,gap:3,fs:9};
chromPanel('aa-trace-saponified',Object.assign({},aR,{y0:469.3,yMaxPx:434,vMax:500000,top:434}),aaSapTime,aaSapValue,aaSapTicks,sci,aaXTicks);
chromPanel('aa-trace-pseudo-lipase',Object.assign({},aR,{y0:521,yMaxPx:486.7,vMax:4000000,top:486.7}),aaPseudoTime,aaPseudoValue,aaOtherTicks,sci,aaXTicks);
chromPanel('aa-trace-human-ces1',Object.assign({},aR,{y0:571.7,yMaxPx:536,vMax:4000000,top:536}),aaCesTime,aaCesValue,aaOtherTicks,sci,aaXTicks);
chromPanel('aa-trace-non-enzymatic',Object.assign({},aR,{y0:619,yMaxPx:585,vMax:4000000,top:585}),aaNonTime,aaNonValue,aaOtherTicks,sci,aaXTicks);
xLabels('aa-x-tick-labels',aaXTicks,594.3,7,50.3,634,10);
brokenBar('aa-rate-chart',{x:907.9,base:630,right:1025,top:463.3,loMax:3,loMaxPx:551.7,hiMin:100,hiMax:120,hiMinPx:523.3,hiMaxPx:486,gapTop:543.3,gapBot:551.7,first:931,step:35.7,barW:21.5,fill:'#bdbdbd',sw:1.6,cap:3,labY:639.3,labY2:651.7,pseudoLeft:990,labFs:10.3,fs:9.6,labGap:7},aaRates,aaRateErrors,aaLowTicks,aaHighTicks);

// Panel B left
const bL={x0:100,tmin:10,ppm:35.1,tEnd:18.1,axisColor:'#777',axisW:1.5,lineColor:'#444',lw:1.6,tick:3,gap:3,fs:13};
chromPanel('hode-trace-saponified',Object.assign({},bL,{y0:1090.7,yMaxPx:1037.3,vMax:50000,top:1037.3}),hodeSapTime,hodeSapValue,hodeSapTicks,sci,bXTicks);
chromPanel('hode-trace-pseudo-lipase',Object.assign({},bL,{y0:1163.3,yMaxPx:1110,vMax:3000000,top:1110}),hodePseudoTime,hodePseudoValue,hodePseudoTicks,sci,bXTicks);
chromPanel('hode-trace-human-ces1',Object.assign({},bL,{y0:1241,yMaxPx:1185.7,vMax:100000,top:1185.7}),hodeCesTime,hodeCesValue,hodeCesTicks,sci,bXTicks);
chromPanel('hode-trace-non-enzymatic',Object.assign({},bL,{y0:1314,yMaxPx:1262.3,vMax:100000,top:1262.3,tEnd:20}),hodeNonTime,hodeNonValue,hodeNonTicks,sci,bXTicks);
xLabels('hode-x-tick-labels',bXTicks,100,10,35.1,1337.7,14.5);
brokenBar('hodes-rate-chart',{x:435,base:1247.3,right:534.5,top:1105,loMax:250,loMaxPx:1180.7,hiMin:4000,hiMax:4300,hiMinPx:1171.7,hiMaxPx:1105,gapTop:1172.7,gapBot:1180,first:453,step:31,barW:19,fill:'#000',sw:1,cap:4,labY:1255.7,labY2:1266,pseudoLeft:503.6,labFs:9,fs:8,labGap:6},hodeRates,hodeRateErrors,hodeLowTicks,hodeHighTicks);

// Panel B right
const bR={x0:651,tmin:10,ppm:36.17,tEnd:20,axisColor:'#666',axisW:1.5,lineColor:'#666',lw:1.5,tick:3,gap:6,fs:13};
chromPanel('la-trace-saponified',Object.assign({},bR,{y0:1087.7,yMaxPx:1034,vMax:4000000,top:1034}),laSapTime,laSapValue,laSapTicks,sci,bXTicks);
chromPanel('la-trace-pseudo-lipase',Object.assign({},bR,{y0:1170.7,yMaxPx:1119.3,vMax:40000000,top:1119.3,tEnd:16.65}),laPseudoTime,laPseudoValue,laOtherTicks,sci,bXTicks);
chromPanel('la-trace-human-ces1',Object.assign({},bR,{y0:1245.3,yMaxPx:1192,vMax:40000000,top:1192,tEnd:16.65}),laCesTime,laCesValue,laOtherTicks,sci,bXTicks);
chromPanel('la-trace-non-enzymatic',Object.assign({},bR,{y0:1315.3,yMaxPx:1265,vMax:40000000,top:1265}),laNonTime,laNonValue,laOtherTicks,sci,bXTicks);
xLabels('la-x-tick-labels',bXTicks,651,10,36.17,1337,14.5);
brokenBar('la-rate-chart',{x:926,base:1247.3,right:1027.7,top:1104.3,loMax:20,loMaxPx:1180.7,hiMin:85,hiMax:95,hiMinPx:1170.7,hiMaxPx:1104.3,gapTop:1171.7,gapBot:1180,first:947.5,step:30,barW:18.4,fill:'#b5b5b5',sw:1.6,cap:4,labY:1255,labY2:1265,pseudoLeft:996.7,labFs:9,fs:8.5,labGap:6},laRates,laRateErrors,laLowTicks,laHighTicks);

// Panel C
const cBase={tmin:9,ppm:32.07,tEnd:14.8,axisColor:'#888',axisW:2,xColor:'#111',xW:1.6,lineColor:'#111',lw:1.6,tick:3,gap:5,fs:10.4,y0:1691,yMaxPx:1504,vMax:60000,top:1504};
chromPanel('srm-171-chart',Object.assign({},cBase,{x0:117}),srm171Time,srm171Value,srmYTicks,plain,srmXTicks);
chromPanel('srm-195-chart',Object.assign({},cBase,{x0:342.5}),srm195Time,srm195Value,srmYTicks,plain,srmXTicks);
xLabels('srm-171-x-tick-labels',srmXTicks,117,9,32.07,1705.7,10.4);
xLabels('srm-195-x-tick-labels',srmXTicks,342.5,9,32.07,1705.7,10.4);

// Panel D
kinetics('kinetics-la-chart',{x0:664.3,sx:0.3,y0:1660,sy:1.947,top:1445,right:801,labGap:11,r:3.3,marker:'#111'},laConc,laVelocity,laVelocityErr,laFitX,laFitY,laXTicks,laYTicks,plain);
kinetics('kinetics-hodes-chart',{x0:845.7,sx:22.55,y0:1660,sy:432,top:1445,right:981,labGap:11,r:2.6,marker:'#1fb5ad'},hodeConc,hodeVelocity,hodeVelocityErr,hodeFitX,hodeFitY,hodeXTicks,hodeYTicks,v=>v.toFixed(1));

// Panel E
simpleBar('la-ala-bar-chart',{x:1190.7,base:1333.3,right:1381.7,topPx:1068.7,vMax:50,first:1242,step:86.5,barW:52,cap:5,fill:'#b3b3b3',lab0:1241.7,lab1:1339,labY:1350},eTopValues,eTopErrors,eTopTicks,eCategories);
simpleBar('hode-hotre-bar-chart',{x:1190.7,base:1672.3,right:1381.7,topPx:1408,vMax:600,first:1242,step:86.5,barW:53,cap:5,fill:'#000',lab0:1240,lab1:1339,labY:1689},eBottomValues,eBottomErrors,eBottomTicks,eCategories);
</script>
</body>
</html>
